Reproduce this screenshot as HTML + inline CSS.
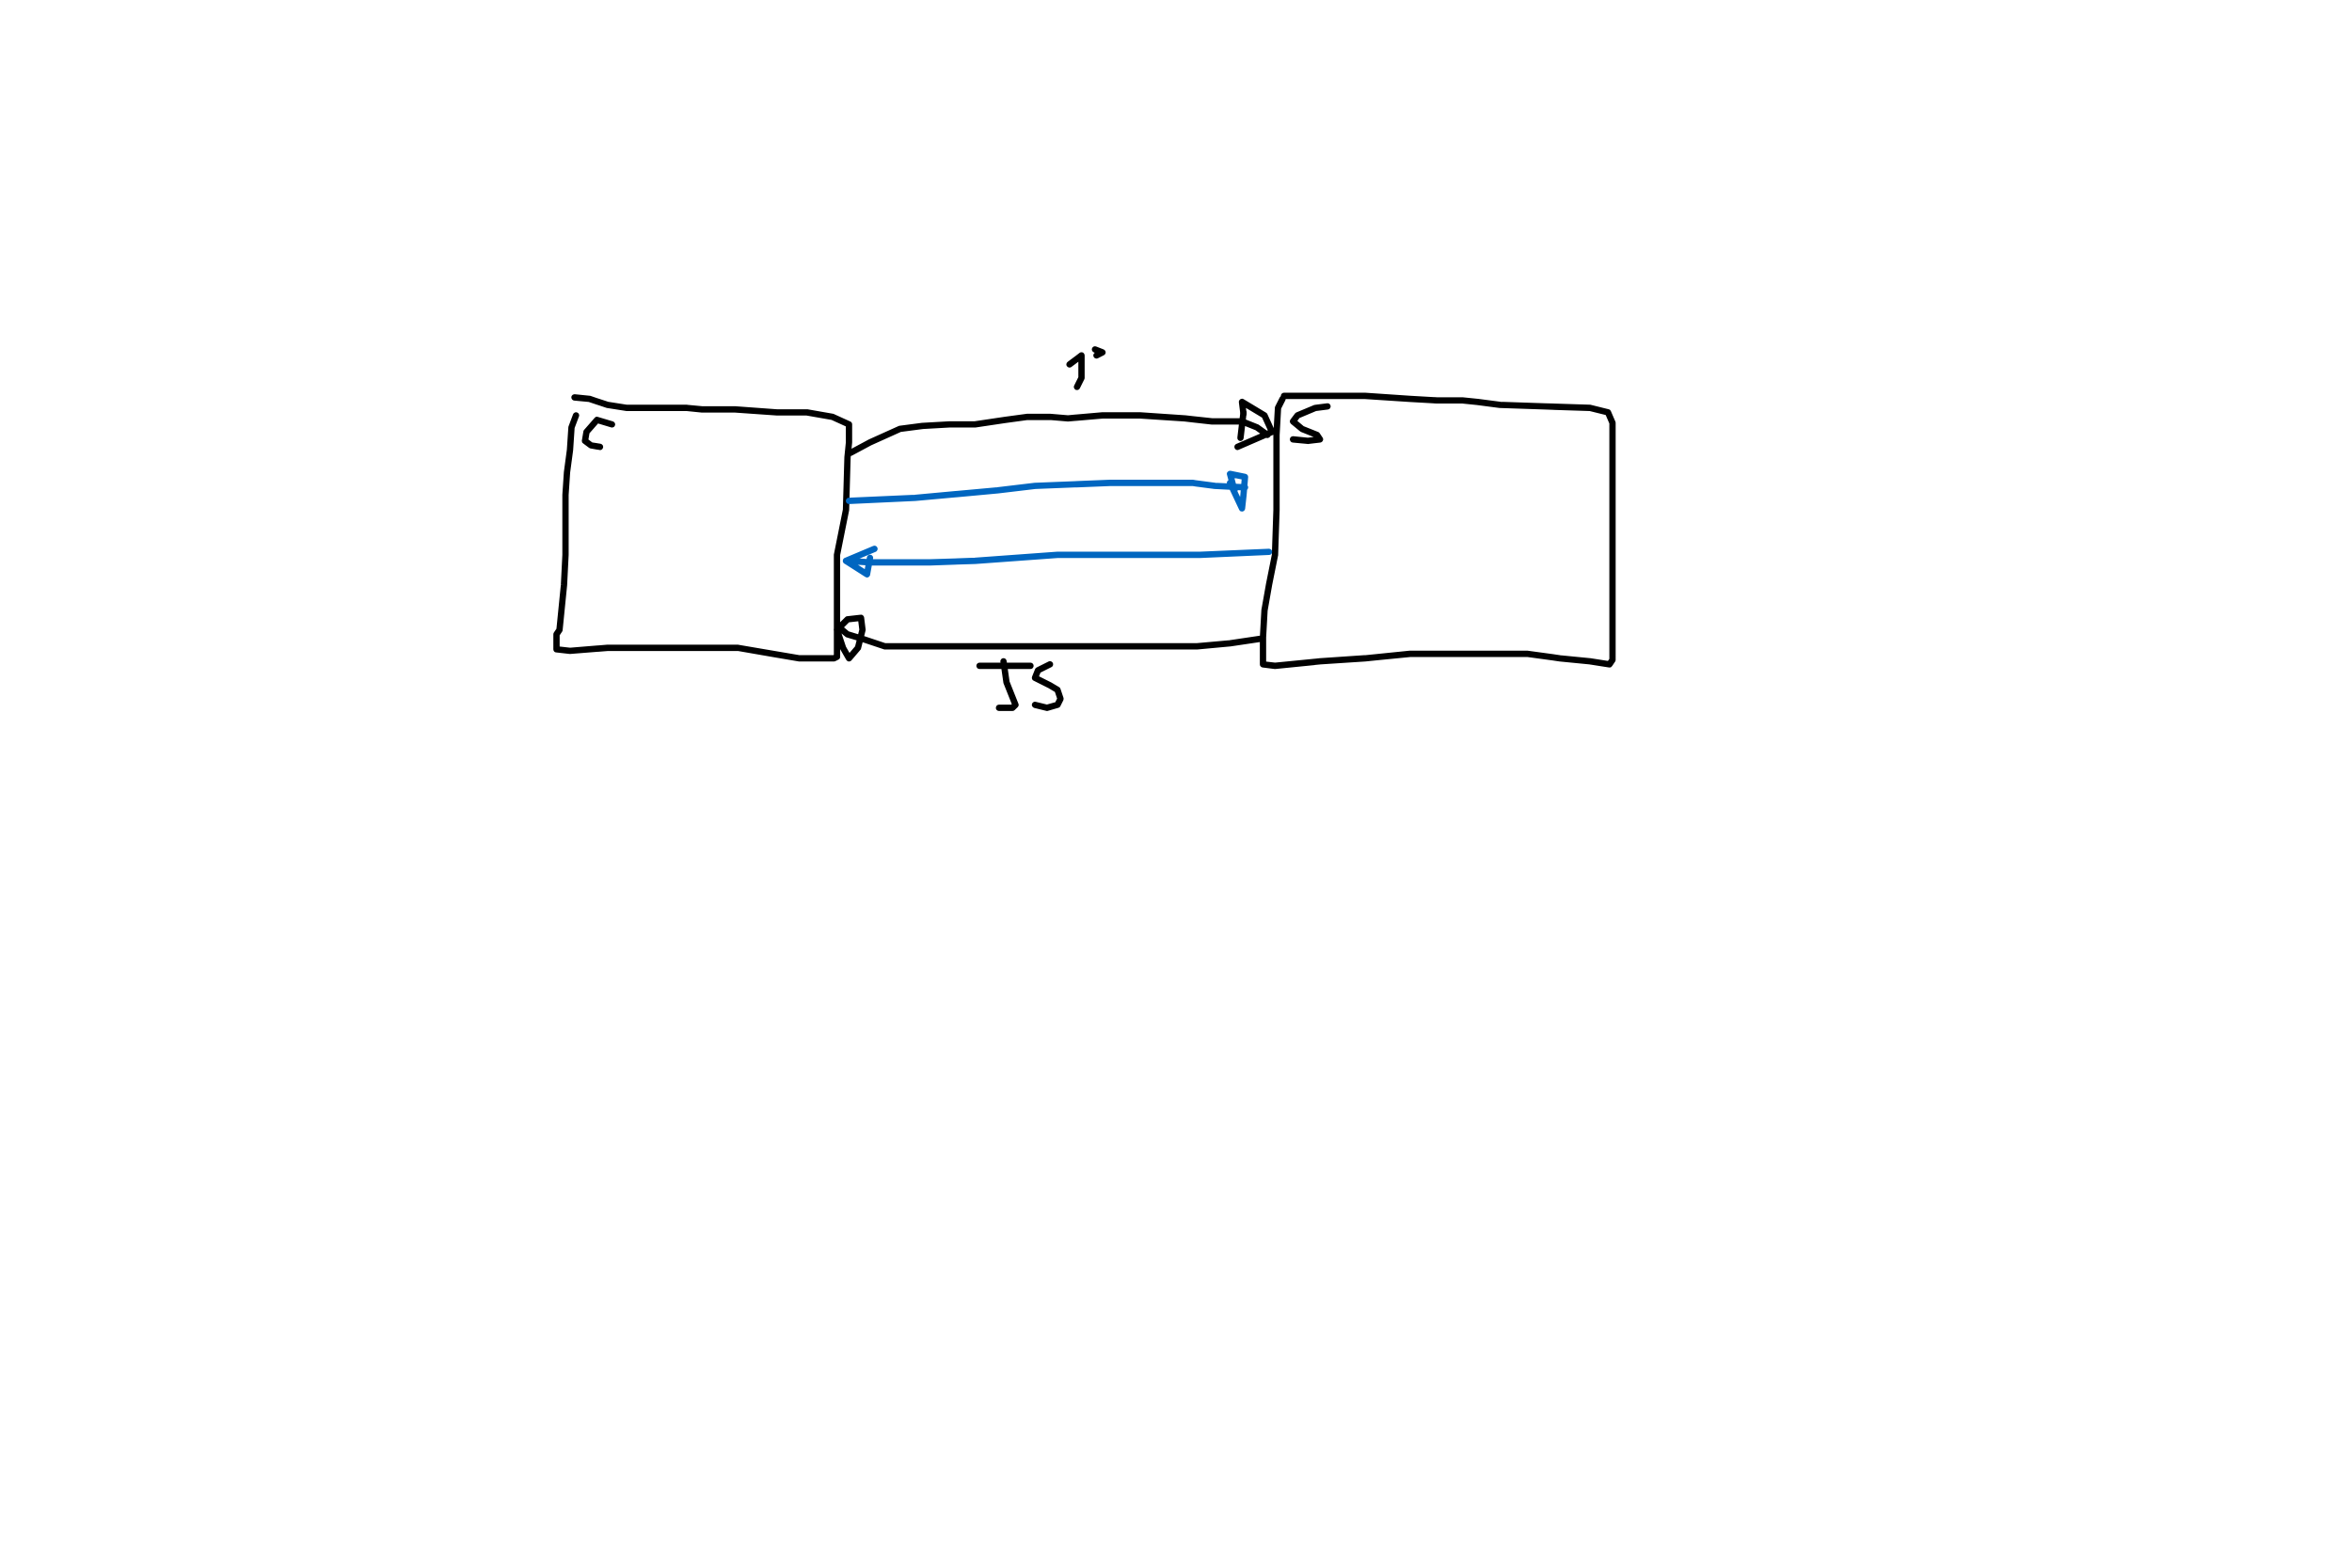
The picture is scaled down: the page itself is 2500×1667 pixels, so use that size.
<!DOCTYPE html>
<html>
<head>
<meta charset="utf-8">
<style>
html,body{margin:0;padding:0;background:#fff;}
svg{display:block;}
polyline{fill:none;stroke-linecap:round;stroke-linejoin:round;stroke-width:4.2;}
.k{stroke:#000;}
.b{stroke:#0066c0;}
</style>
</head>
<body>
<svg width="2500" height="1667" viewBox="0 0 1568 1045.6" preserveAspectRatio="none" xmlns="http://www.w3.org/2000/svg">
  <g>
    <polyline class="k" points="383,265 393,266 405,270 418,272 458,272 468,273 490,273 518,275 538,275 555,278 566,283 566,295 565,305 564,340 561,355 558,370 558,438 556,439 533,439 515,436 492,432 405,432 380,434 371,433 371,423 373,420 375,400 376,390 377,370 377,330 378,315 380,300 381,285 384,277"/>
    <polyline class="k" points="408,283 398,280 391,288 390,294 394,297 400,298"/>
  </g>
  <g>
    <polyline class="k" points="856,264 910,264 940,266 958,267 975,267 985,268 1000,270 1030,271 1060,272 1072,275 1075,282 1075,440 1073,443 1060,441 1040,439 1018,436 940,436 920,438 910,439 880,441 850,444 842,443 842,425 843,407 846,390 850,370 851,340 851,290 852,272 855,266"/>
    <polyline class="k" points="885,271 877,272 865,277 862,281 868,286 878,290 880,293 872,294 862,293"/>
  </g>
  <g>
    <polyline class="k" points="567,302 580,295 600,286 615,284 633,283 650,283 670,280 685,278 700,278 712,279 735,277 760,277 790,279 808,281 828,281 838,285 845,290"/>
    <polyline class="k" points="829,276 828,268 843,277 848,288 825,298"/>
    <polyline class="k" points="829,275 827,292"/>
    <polyline class="k" points="713,243 721,237 721,252 718,258"/>
    <polyline class="k" points="730,233 735,235 731,237"/>
  </g>
  <g>
    <polyline class="b" points="566,334 610,332 665,327 690,324 740,322 795,322 810,324 830,325"/>
    <polyline class="b" points="823,327 820,316 830,318 829,330 828,339 820,322"/>
  </g>
  <g>
    <polyline class="b" points="846,368 800,370 705,370 650,374 620,375 580,375 564,374"/>
    <polyline class="b" points="583,366 564,374 578,383 580,372"/>
  </g>
  <g>
    <polyline class="k" points="840,426 820,429 798,431 700,431 590,431 575,426 565,423 559,418"/>
    <polyline class="k" points="574,412 565,413 558,420 562,432 566,439 572,432 575,420 574,412"/>
    <polyline class="k" points="653,444 687,444"/>
    <polyline class="k" points="669,441 671,455 675,465 677,470 675,472 666,472"/>
    <polyline class="k" points="700,443 692,447 690,452 700,457 705,460 707,466 705,470 698,472 690,470"/>
  </g>
</svg>
</body>
</html>
